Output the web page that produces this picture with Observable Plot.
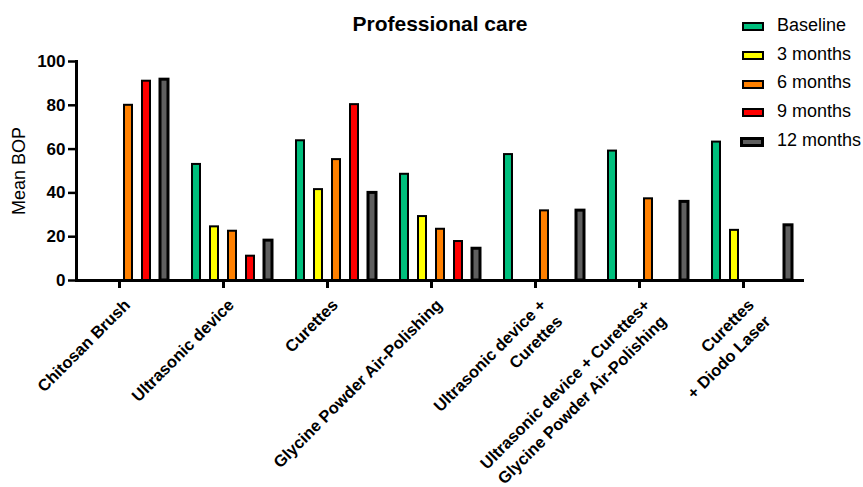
<!DOCTYPE html>
<html>
<head>
<meta charset="utf-8">
<script src="https://cdn.jsdelivr.net/npm/d3@7"></script>
<script src="https://cdn.jsdelivr.net/npm/@observablehq/plot@0.6"></script>
<style>
  body { margin: 0; background: #fff; font-family: "Liberation Sans", Arial, sans-serif; }
  #wrap { position: relative; width: 863px; height: 487px; overflow: hidden; }
  #chart { position: absolute; left: 0; top: 0; }
  #title { position: absolute; left: 0; width: 880px; top: 12px; line-height: 24px; text-align: center; font-weight: bold; font-size: 21px; color: #000; }
  .lg-sw { position: absolute; left: 742px; width: 22px; height: 9px; box-sizing: border-box; border: 2px solid #000; }
  .lg-tx { position: absolute; left: 777px; font-size: 18px; line-height: 21px; color: #000; white-space: nowrap; }
</style>
</head>
<body>
<div id="wrap">
  <div id="chart"></div>
  <div id="title">Professional care</div>
  <div id="legend"></div>
</div>
<script>
const categories = [
  "Chitosan Brush",
  "Ultrasonic device",
  "Curettes",
  "Glycine Powder Air-Polishing",
  "Ultrasonic device + Curettes",
  "Ultrasonic device + Curettes + Glycine Powder Air-Polishing",
  "Curettes + Diodo Laser"
];
const tickLabels = [
  "Chitosan Brush",
  "Ultrasonic device",
  "Curettes",
  "Glycine Powder Air-Polishing",
  "Ultrasonic device +\nCurettes",
  "Ultrasonic device + Curettes+\nGlycine Powder Air-Polishing",
  "Curettes\n+ Diodo Laser"
];
const series = ["Baseline", "3 months", "6 months", "9 months", "12 months"];
const colors = ["#00BF7D", "#FFFF00", "#FF8000", "#FF0000", "#5F5F5F"];

const baseline = [null, 53.0, 63.8, 48.5, 57.5, 59.1, 63.2];
const months3  = [null, 24.5, 41.5, 29.2, null, null, 22.9];
const months6  = [80.0, 22.5, 55.2, 23.4, 31.8, 37.3, null];
const months9  = [91.0, 11.1, 80.3, 17.8, null, null, null];
const months12 = [91.7, 18.2, 40.0, 14.5, 31.9, 35.9, 25.2];
const seriesValues = [baseline, months3, months6, months9, months12];

const yTicks = [0, 20, 40, 60, 80, 100];
const yLabel = "Mean BOP";

const data = [];
categories.forEach((c, ci) => {
  series.forEach((s, si) => {
    const v = seriesValues[si][ci];
    if (v != null) data.push({category: c, series: s, value: v});
  });
});

const chart = Plot.plot({
  width: 863,
  height: 487,
  marginTop: 61,
  marginBottom: 207,
  marginLeft: 75,
  marginRight: 58,
  style: {fontFamily: '"Liberation Sans", Arial, sans-serif', background: "white", color: "black", overflow: "visible"},
  fx: {domain: categories, padding: 0, label: null},
  x: {domain: series, paddingInner: 0.53, paddingOuter: 0.58, axis: null},
  y: {domain: [0, 100], label: null},
  color: {domain: series, range: colors},
  marks: [
    Plot.barY(data, {
      fx: "category", x: "series", y: "value",
      fill: "series", stroke: "black",
      strokeWidth: d => d.series === "12 months" ? 3 : 2
    }),
    Plot.ruleY([0], {strokeWidth: 3}),
    Plot.frame({anchor: "left", strokeWidth: 3, facetAnchor: "left"}),
    Plot.axisY({
      ticks: yTicks, tickSize: 8, tickPadding: 3, strokeWidth: 2.5,
      fontSize: 17, fontWeight: "bold", label: null, anchor: "left"
    }),
    Plot.axisFx({
      anchor: "bottom", tickSize: 8, strokeWidth: 3, tickPadding: 6, dx: -9,
      tickRotate: -45, textAnchor: "end", lineAnchor: "top", lineHeight: 1.4,
      fontSize: 16.5, fontWeight: "bold", label: null,
      tickFormat: d => tickLabels[categories.indexOf(d)]
    }),
    Plot.text([yLabel], {
      text: d => d, frameAnchor: "left", textAnchor: "middle", rotate: -90, dx: -57,
      fontSize: 18, facetAnchor: "left"
    })
  ]
});
document.getElementById("chart").appendChild(chart);

const legend = document.getElementById("legend");
series.forEach((s, i) => {
  const sw = document.createElement("div");
  sw.className = "lg-sw";
  sw.style.top = (22.2 + i * 28.7) + "px";
  sw.style.background = colors[i];
  if (s === "12 months") { sw.style.borderWidth = "3px"; sw.style.left = "740px"; sw.style.width = "24px"; sw.style.height = "10px"; }
  legend.appendChild(sw);
  const tx = document.createElement("div");
  tx.className = "lg-tx";
  tx.style.top = (15 + i * 28.7) + "px";
  tx.textContent = s;
  legend.appendChild(tx);
});
</script>
</body>
</html>
